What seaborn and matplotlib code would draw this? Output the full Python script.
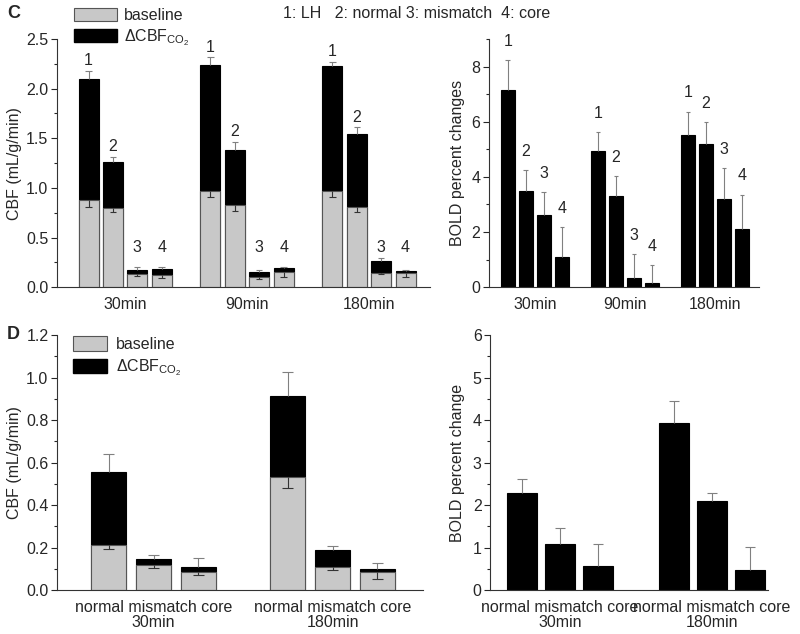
import numpy as np
import pandas as pd
import matplotlib
matplotlib.use('Agg')
import matplotlib.pyplot as plt
import seaborn as sns
from matplotlib.patches import Patch
from matplotlib.ticker import MultipleLocator

# Panel C: regions 1-4 at three time points (rows = time, cols = region)
times_c = ['30min', '90min', '180min']
regions_c = ['1', '2', '3', '4']
base_c = [[0.88, 0.80, 0.13, 0.125],
          [0.966, 0.83, 0.10, 0.15],
          [0.966, 0.807, 0.145, 0.14]]
base_err_c = [[0.07, 0.045, 0.015, 0.03],
              [0.058, 0.063, 0.018, 0.05],
              [0.061, 0.047, 0.017, 0.04]]
total_c = [[2.10, 1.26, 0.175, 0.185],
           [2.234, 1.386, 0.158, 0.19],
           [2.224, 1.544, 0.26, 0.16]]
total_err_c = [[0.08, 0.05, 0.025, 0.02],
               [0.08, 0.078, 0.017, 0.015],
               [0.046, 0.066, 0.03, 0.012]]
bold_c = [[7.15, 3.48, 2.63, 1.08],
          [4.93, 3.31, 0.33, 0.16],
          [5.51, 5.21, 3.19, 2.10]]
bold_err_c = [[1.09, 0.77, 0.83, 1.10],
              [0.69, 0.73, 0.87, 0.65],
              [0.86, 0.78, 1.14, 1.26]]

# Panel D: normal / mismatch / core at 30 and 180 min
times_d = ['30min', '180min']
regions_d = ['normal', 'mismatch', 'core']
base_d = [[0.21, 0.116, 0.085],
          [0.533, 0.107, 0.085]]
base_err_d = [[0.019, 0.014, 0.016],
              [0.051, 0.014, 0.035]]
total_d = [[0.554, 0.144, 0.11],
           [0.913, 0.19, 0.099]]
total_err_d = [[0.084, 0.019, 0.042],
               [0.111, 0.015, 0.026]]
bold_d = [[2.28, 1.09, 0.56],
          [3.94, 2.10, 0.48]]
bold_err_d = [[0.33, 0.37, 0.53],
              [0.50, 0.18, 0.54]]

GRAY = '#c8c8c8'
EDGE = '#555555'
FS = 11.5

sns.set_style('ticks')
plt.rcParams['font.family'] = ['Liberation Sans', 'DejaVu Sans']
plt.rcParams['mathtext.fontset'] = 'custom'
plt.rcParams['mathtext.rm'] = 'Liberation Sans'
plt.rcParams['font.size'] = FS


def long_frame(times, regions, **cols):
    rows = []
    for j, t in enumerate(times):
        for i, r in enumerate(regions):
            rows.append([t, r] + [cols[k][j][i] for k in cols])
    return pd.DataFrame(rows, columns=['time', 'region'] + list(cols))


def err_lines(ax, container, y, err, up, color):
    for p, v, e in zip(container, y, err):
        xc = p.get_x() + p.get_width() / 2
        cap = p.get_width() * 0.16
        end = v + e if up else v - e
        ax.vlines(xc, v, end, color=color, lw=0.8)
        ax.hlines(end, xc - cap, xc + cap, color=color, lw=0.8)


def style_axis(ax, ymax, major, minor, xlim):
    sns.despine(ax=ax)
    ax.set_ylim(0, ymax)
    ax.set_xlim(*xlim)
    ax.yaxis.set_major_locator(MultipleLocator(major))
    ax.yaxis.set_minor_locator(MultipleLocator(minor))
    ax.tick_params(axis='y', which='major', direction='out', length=4, width=0.8, pad=2, labelsize=FS)
    ax.tick_params(axis='y', which='minor', direction='out', length=2.5, width=0.8)
    ax.tick_params(axis='x', length=0, pad=7, labelsize=FS)
    for s in ['left', 'bottom']:
        ax.spines[s].set_linewidth(0.8)
        ax.spines[s].set_color('#333333')
    ax.set_xlabel('')


def cbf_panel(ax, times, regions, total, total_err, base, base_err, width, gap):
    df = long_frame(times, regions, total=total, base=base)
    n = len(regions)
    sns.barplot(data=df, x='time', y='total', hue='region', order=times, hue_order=regions,
                palette=['black'] * n, edgecolor='black', linewidth=0.8, errorbar=None,
                width=width, gap=gap, legend=False, ax=ax)
    sns.barplot(data=df, x='time', y='base', hue='region', order=times, hue_order=regions,
                palette=[GRAY] * n, edgecolor=EDGE, linewidth=0.8, errorbar=None,
                width=width, gap=gap, legend=False, ax=ax)
    for i in range(n):
        err_lines(ax, ax.containers[i], [row[i] for row in total], [row[i] for row in total_err], True, '#808080')
        err_lines(ax, ax.containers[n + i], [row[i] for row in base], [row[i] for row in base_err], False, '#333333')
    ax.set_ylabel('CBF (mL/g/min)')


def bold_panel(ax, times, regions, vals, errs, width, gap, ylabel):
    df = long_frame(times, regions, bold=vals)
    n = len(regions)
    sns.barplot(data=df, x='time', y='bold', hue='region', order=times, hue_order=regions,
                palette=['black'] * n, edgecolor='black', linewidth=0.8, errorbar=None,
                width=width, gap=gap, legend=False, ax=ax)
    for i in range(n):
        err_lines(ax, ax.containers[i], [row[i] for row in vals], [row[i] for row in errs], True, '#808080')
    ax.set_ylabel(ylabel)


def number_labels(ax, regions, vals, errs, floor, pad):
    for i, r in enumerate(regions):
        for p, v, e in zip(ax.containers[i], [row[i] for row in vals], [row[i] for row in errs]):
            xc = p.get_x() + p.get_width() / 2
            ax.annotate(r, (xc, max(v + e, floor)), xytext=(0, pad), textcoords='offset points',
                        ha='center', va='bottom', fontsize=FS)


fig = plt.figure(figsize=(8, 6.34), dpi=100)

# C left: stacked CBF
ax1 = fig.add_axes([0.071, 0.547, 0.4665, 0.3915])
cbf_panel(ax1, times_c, regions_c, total_c, total_err_c, base_c, base_err_c, 0.8, 0.18)
style_axis(ax1, 2.5, 0.5, 0.25, (-0.56, 2.5))
number_labels(ax1, regions_c, total_c, total_err_c, 0.3, 2)
ax1.yaxis.set_label_coords(-0.094, 0.5)

# C right: BOLD
ax2 = fig.add_axes([0.611, 0.547, 0.338, 0.3915])
bold_panel(ax2, times_c, regions_c, bold_c, bold_err_c, 0.8, 0.2, 'BOLD percent changes')
style_axis(ax2, 9, 2, 1, (-0.51, 2.49))
number_labels(ax2, regions_c, bold_c, bold_err_c, 0, 8)
ax2.yaxis.set_label_coords(-0.089, 0.5)

# D left: stacked CBF
ax3 = fig.add_axes([0.071, 0.0694, 0.458, 0.4022])
cbf_panel(ax3, times_d, regions_d, total_d, total_err_d, base_d, base_err_d, 0.75, 0.22)
style_axis(ax3, 1.2, 0.2, 0.1, (-0.54, 1.506))
ax3.set_xticks(range(len(times_d)))
ax3.set_xticklabels([' '.join(regions_d) + '\n' + t for t in times_d], linespacing=1.05)
ax3.yaxis.set_label_coords(-0.096, 0.5)

# D right: BOLD
ax4 = fig.add_axes([0.6125, 0.0694, 0.3475, 0.4022])
bold_panel(ax4, times_d, regions_d, bold_d, bold_err_d, 0.75, 0.22, 'BOLD percent change')
style_axis(ax4, 6, 1, 0.5, (-0.46, 1.37))
ax4.set_xticks(range(len(times_d)))
ax4.set_xticklabels([' '.join(regions_d) + '\n' + t for t in times_d], linespacing=1.05)
ax4.yaxis.set_label_coords(-0.09, 0.5)

# legends
handles = [Patch(facecolor=GRAY, edgecolor=EDGE, linewidth=0.8),
           Patch(facecolor='black', edgecolor='black')]
labels = ['baseline', r'ΔCBF$_{\mathrm{CO}_2}$']
fig.legend(handles, labels, loc='upper left', bbox_to_anchor=(74 / 800, 1 - 8 / 634),
           frameon=False, borderpad=0, borderaxespad=0, handlelength=2.7, handleheight=0.88,
           labelspacing=0.25, handletextpad=0.45, fontsize=FS)
fig.legend(handles, labels, loc='upper left', bbox_to_anchor=(73 / 800, 1 - 336 / 634),
           frameon=False, borderpad=0, borderaxespad=0, handlelength=2.1, handleheight=1.05,
           labelspacing=0.35, handletextpad=0.6, fontsize=FS)

fig.text(417 / 800, 1 - 14 / 634, '1: LH   2: normal 3: mismatch  4: core', ha='center', va='center', fontsize=FS)
fig.text(7 / 800, 1 - 14 / 634, 'C', fontweight='bold', ha='left', va='center', fontsize=13)
fig.text(7 / 800, 1 - 334 / 634, 'D', fontweight='bold', ha='left', va='center', fontsize=13)

fig.savefig('out.png', dpi=100)
